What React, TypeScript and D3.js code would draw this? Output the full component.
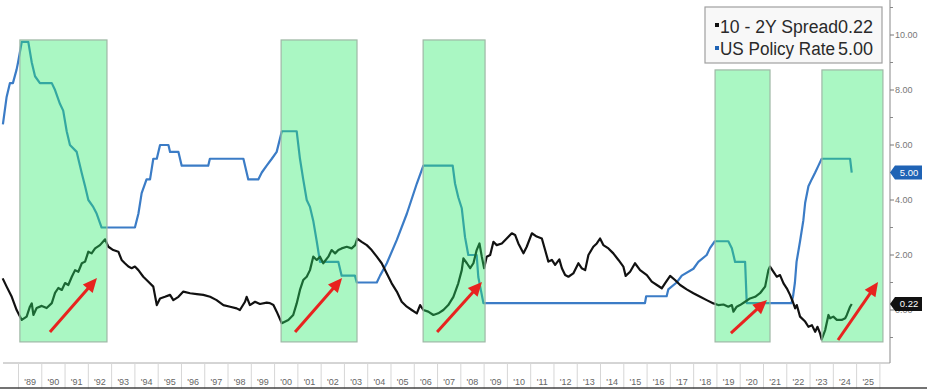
import React from "react";
import * as d3 from "d3";

// ---- Data (decimal year, value) ----
const spreadYears = [
  1988.32, 1988.49, 1988.71, 1988.92, 1989.14, 1989.35, 1989.49, 1989.57, 1989.64, 1989.78,
  1990.0, 1990.21, 1990.43, 1990.57, 1990.71, 1990.86, 1991.0, 1991.14, 1991.29, 1991.43,
  1991.57, 1991.72, 1991.86, 1992.0, 1992.14, 1992.29, 1992.5, 1992.72, 1992.86, 1993.07,
  1993.29, 1993.43, 1993.57, 1993.72, 1993.86, 1994.0, 1994.15, 1994.36, 1994.58, 1994.79,
  1994.94, 1995.08, 1995.29, 1995.51, 1995.65, 1995.87, 1996.08, 1996.37, 1996.66, 1996.94,
  1997.23, 1997.51, 1997.8, 1998.09, 1998.37, 1998.51, 1998.73, 1998.8, 1998.94, 1999.16,
  1999.37, 1999.66, 1999.8, 1999.95, 2000.09, 2000.31, 2000.59, 2000.8, 2000.95, 2001.09,
  2001.23, 2001.38, 2001.52, 2001.66, 2001.81, 2001.95, 2002.09, 2002.31, 2002.45, 2002.6,
  2002.74, 2002.88, 2003.1, 2003.31, 2003.46, 2003.55, 2003.74, 2003.96, 2004.17, 2004.39,
  2004.6, 2004.82, 2005.03, 2005.25, 2005.46, 2005.68, 2005.89, 2006.11, 2006.25, 2006.39,
  2006.6, 2006.82, 2007.03, 2007.25, 2007.46, 2007.68, 2007.89, 2008.04, 2008.11, 2008.26,
  2008.4, 2008.54, 2008.68, 2008.8, 2008.9, 2009.0, 2009.11, 2009.26, 2009.4, 2009.54,
  2009.76, 2009.97, 2010.19, 2010.33, 2010.47, 2010.69, 2010.83, 2011.05, 2011.26, 2011.48,
  2011.62, 2011.76, 2011.91, 2012.05, 2012.23, 2012.34, 2012.48, 2012.62, 2012.83, 2013.05,
  2013.19, 2013.34, 2013.48, 2013.69, 2013.84, 2013.98, 2014.12, 2014.34, 2014.55, 2014.77,
  2014.98, 2015.08, 2015.27, 2015.48, 2015.7, 2015.99, 2016.2, 2016.42, 2016.63, 2016.77,
  2016.99, 2017.2, 2017.42, 2017.7, 2017.99, 2018.28, 2018.56, 2018.85, 2019.06, 2019.28,
  2019.49, 2019.64, 2019.71, 2019.85, 2019.99, 2020.21, 2020.42, 2020.64, 2020.85, 2021.07,
  2021.21, 2021.28, 2021.43, 2021.57, 2021.71, 2021.86, 2022.0, 2022.14, 2022.26, 2022.36,
  2022.43, 2022.57, 2022.79, 2022.93, 2023.08, 2023.22, 2023.32, 2023.43, 2023.5, 2023.65,
  2023.79, 2023.86, 2024.0, 2024.15, 2024.36, 2024.51, 2024.58, 2024.72, 2024.79,
];
const spreadValues = [
  1.15, 0.85, 0.48, 0.0, -0.36, -0.24, 0.12, 0.24, -0.18, 0.07,
  0.15, 0.07, 0.25, 0.62, 0.8, 0.73, 0.98, 0.91, 1.21, 1.45,
  1.39, 1.7, 1.76, 2.12, 2.06, 2.24, 2.36, 2.57, 2.3, 2.18,
  2.12, 1.82, 1.7, 1.58, 1.52, 1.58, 1.45, 1.21, 1.03, 0.85,
  0.18, 0.42, 0.48, 0.55, 0.36, 0.48, 0.67, 0.61, 0.58, 0.55,
  0.48, 0.36, 0.18, 0.12, 0.06, 0.0, 0.3, 0.48, 0.18, 0.3,
  0.22, 0.27, 0.25, 0.18, -0.06, -0.48, -0.36, -0.18, 0.24, 0.73,
  1.09, 1.21, 1.45, 1.94, 1.82, 1.94, 1.7, 1.94, 2.18, 2.06,
  2.18, 2.24, 2.3, 2.24, 2.36, 2.6, 2.48, 2.36, 2.18, 1.94,
  1.7, 1.33, 0.97, 0.67, 0.3, 0.12, 0.0, -0.12, 0.18, 0.0,
  -0.06, -0.18, -0.12, 0.0, 0.18, 0.48, 0.97, 1.45, 1.88, 1.7,
  1.52, 1.7, 2.18, 2.42, 1.94, 1.52, 1.94, 2.0, 2.48, 2.36,
  2.42, 2.6, 2.79, 2.73, 2.42, 2.06, 2.3, 2.79, 2.67, 2.6,
  2.18, 1.76, 1.82, 1.64, 1.84, 1.52, 1.27, 1.21, 1.33, 1.7,
  1.52, 1.45, 2.0, 2.3, 2.42, 2.6, 2.36, 2.24, 2.06, 1.82,
  1.58, 1.24, 1.39, 1.7, 1.45, 1.27, 1.03, 0.91, 0.79, 0.97,
  1.24, 1.09, 0.91, 0.75, 0.61, 0.48, 0.36, 0.24, 0.18, 0.2,
  0.12, 0.18, -0.06, 0.12, 0.18, 0.3, 0.42, 0.48, 0.61, 0.85,
  1.45, 1.58, 1.39, 1.21, 1.27, 0.97, 0.79, 0.55, 0.3, 0.06,
  0.18, -0.24, -0.42, -0.61, -0.55, -0.79, -0.61, -0.85, -1.07, -0.73,
  -0.18, -0.3, -0.24, -0.36, -0.36, -0.3, -0.18, 0.12, 0.22,
];

const rateYears = [
  1988.33, 1988.49, 1988.63, 1988.76, 1988.92, 1988.98, 1989.14, 1989.42, 1989.57, 1989.71,
  1989.92, 1990.43, 1990.57, 1990.78, 1990.92, 1991.07, 1991.21, 1991.5, 1991.71, 1991.86,
  1992.0, 1992.21, 1992.36, 1992.57, 1994.0, 1994.15, 1994.29, 1994.5, 1994.65, 1994.79,
  1994.94, 1995.08, 1995.44, 1995.51, 1995.87, 1996.01, 1997.15, 1997.22, 1998.66, 1998.87,
  1999.3, 1999.45, 1999.66, 1999.88, 2000.09, 2000.31, 2000.95, 2001.09, 2001.23, 2001.38,
  2001.52, 2001.66, 2001.81, 2001.95, 2002.74, 2002.88, 2003.45, 2003.53, 2004.39, 2004.53,
  2004.82, 2005.25, 2005.68, 2006.11, 2006.39, 2007.65, 2007.75, 2007.89, 2008.04, 2008.18,
  2008.32, 2008.68, 2008.75, 2008.97, 2015.91, 2015.96, 2016.84, 2016.91, 2017.27, 2017.49,
  2017.99, 2018.2, 2018.56, 2018.7, 2018.91, 2019.49, 2019.64, 2019.78, 2020.21, 2020.28,
  2022.2, 2022.27, 2022.35, 2022.42, 2022.57, 2022.71, 2022.79, 2022.93, 2023.07, 2023.22,
  2023.36, 2023.5, 2024.72, 2024.79,
];
const rateValues = [
  6.75, 7.75, 8.25, 8.25, 8.75, 9.0, 9.75, 9.75, 9.0, 8.5,
  8.25, 8.25, 8.0, 7.5, 7.25, 6.5, 6.0, 5.75, 5.0, 4.5,
  4.0, 3.75, 3.5, 3.0, 3.0, 3.5, 4.25, 4.75, 4.75, 5.5,
  5.5, 6.0, 6.0, 5.75, 5.75, 5.25, 5.25, 5.5, 5.5, 4.75,
  4.75, 5.0, 5.25, 5.5, 5.75, 6.5, 6.5, 5.5, 4.75, 4.0,
  3.75, 3.25, 2.5, 1.75, 1.75, 1.25, 1.25, 1.0, 1.0, 1.25,
  1.7, 2.55, 3.5, 4.6, 5.25, 5.25, 4.6, 4.1, 3.7, 2.65,
  2.0, 2.0, 1.2, 0.25, 0.25, 0.5, 0.5, 0.75, 1.0, 1.25,
  1.5, 1.75, 2.0, 2.25, 2.5, 2.5, 2.25, 1.75, 1.75, 0.25,
  0.25, 0.5, 1.0, 1.75, 2.5, 3.25, 3.9, 4.5, 4.75, 5.0,
  5.25, 5.5, 5.5, 5.0,
];

const axisTicks = [0, 2, 4, 6, 8, 10];
const minorTicks = [-1, 1, 3, 5, 7, 9, 11];
const yearTicks = d3.range(1989, 2026);
const seriesNames = ["10 - 2Y Spread", "US Policy Rate"];
const lastValues = ["0.22", "5.00"];

// highlighted periods (start year, end year, top value)
const boxStarts = [1989.06, 2000.28, 2006.38, 2018.92, 2023.51];
const boxEnds = [1992.8, 2003.54, 2009.04, 2021.28, 2026.13];
const boxTops = [9.82, 9.82, 9.82, 8.73, 8.73];
const boxBottom = -1.16;

// arrows: tail (year, value) -> head (year, value)
const arrowTailYears = [1990.35, 2000.88, 2006.98, 2019.6, 2024.2];
const arrowTailValues = [-0.8, -0.8, -0.8, -0.84, -1.09];
const arrowHeadYears = [1992.37, 2002.9, 2008.91, 2021.15, 2025.92];
const arrowHeadValues = [1.16, 1.16, 1.02, 0.36, 1.02];

const W = 927;
const H = 389;
const plotLeft = 3;
const axisX = 890;
const plotBottom = 363;

export default function App() {
  const x = d3.scaleLinear().domain([1989, 2026]).range([18.5, 879.9]);
  const y = d3.scaleLinear().domain([-1.927, 11.273]).range([363, 0]);

  const line = d3
    .line<[number, number]>()
    .x((d) => x(d[0]))
    .y((d) => y(d[1]));

  const spread = spreadYears.map((t, i) => [t, spreadValues[i]] as [number, number]);
  const rate = rateYears.map((t, i) => [t, rateValues[i]] as [number, number]);

  const fmt = d3.format(".2f");
  const font = "'Liberation Sans', Arial, sans-serif";

  const arrows = arrowTailYears.map((t, i) => {
    const x1 = x(t);
    const y1 = y(arrowTailValues[i]);
    const x2 = x(arrowHeadYears[i]);
    const y2 = y(arrowHeadValues[i]);
    const ang = Math.atan2(y2 - y1, x2 - x1);
    const hl = 14;
    const hw = 6.5;
    const bx = x2 - hl * Math.cos(ang);
    const by = y2 - hl * Math.sin(ang);
    const px = -Math.sin(ang);
    const py = Math.cos(ang);
    const head = `M${x2},${y2}L${bx + hw * px},${by + hw * py}L${bx - hw * px},${by - hw * py}Z`;
    return { x1, y1, bx: x2 - (hl - 2) * Math.cos(ang), by: y2 - (hl - 2) * Math.sin(ang), head };
  });

  const badge = (val: number, label: string, fill: string) => {
    const cy = y(val);
    return (
      <g>
        <path
          d={`M${axisX},${cy}L${axisX + 5},${cy - 7}H${axisX + 32}V${cy + 7}H${axisX + 5}Z`}
          fill={fill}
        />
        <text x={axisX + 19} y={cy + 3.5} fontSize={9.5} fill="#fff" textAnchor="middle" fontFamily={font}>
          {label}
        </text>
      </g>
    );
  };

  return (
    <svg
      width={W}
      height={H}
      style={{ position: "absolute", left: 0, top: 0, background: "#fff" }}
    >
      <rect x={0} y={0} width={W} height={H} fill="#fff" />
      {/* series */}
      <path d={line(rate) || ""} fill="none" stroke="#3b7cc6" strokeWidth={2.2} strokeLinejoin="round" />
      <path d={line(spread) || ""} fill="none" stroke="#111" strokeWidth={2.2} strokeLinejoin="round" />

      {/* highlight boxes */}
      {boxStarts.map((s, i) => (
        <rect
          key={i}
          x={x(s)}
          y={y(boxTops[i])}
          width={x(boxEnds[i]) - x(s)}
          height={y(boxBottom) - y(boxTops[i])}
          fill="rgb(42,235,105)"
          fillOpacity={0.4}
          stroke="#9fb8a6"
          strokeWidth={1.2}
        />
      ))}

      {/* arrows */}
      {arrows.map((a, i) => (
        <g key={i}>
          <line x1={a.x1} y1={a.y1} x2={a.bx} y2={a.by} stroke="#e8231f" strokeWidth={3} />
          <path d={a.head} fill="#e8231f" />
        </g>
      ))}

      {/* x axis */}
      <line x1={plotLeft} x2={axisX} y1={plotBottom} y2={plotBottom} stroke="#aaa" strokeWidth={1} />
      {yearTicks.concat([2026]).map((yr) => (
        <line key={yr} x1={x(yr)} x2={x(yr)} y1={plotBottom} y2={H} stroke="#d6d6d6" strokeWidth={1} />
      ))}
      {yearTicks.map((yr) => (
        <text
          key={yr}
          x={x(yr + 0.5)}
          y={385}
          fontSize={9}
          fill="#666"
          textAnchor="middle"
          fontFamily={font}
        >
          {"'" + String(yr).slice(2)}
        </text>
      ))}
      <line x1={0} x2={W} y1={388} y2={388} stroke="#444" strokeWidth={1.5} />

      {/* right axis */}
      <line x1={axisX} x2={axisX} y1={0} y2={plotBottom} stroke="#888" strokeWidth={1} />
      {minorTicks.map((v) => (
        <line key={v} x1={axisX} x2={axisX + 3} y1={y(v)} y2={y(v)} stroke="#888" />
      ))}
      {axisTicks.map((v) => (
        <g key={v}>
          <line x1={axisX} x2={axisX + 4} y1={y(v)} y2={y(v)} stroke="#777" />
          <text x={axisX + 5} y={y(v) + 3.2} fontSize={9} fill="#777" fontFamily={font}>
            {fmt(v)}
          </text>
        </g>
      ))}
      {badge(rateValues[rateValues.length - 1], fmt(rateValues[rateValues.length - 1]), "#1f63b5")}
      {badge(spreadValues[spreadValues.length - 1], fmt(spreadValues[spreadValues.length - 1]), "#111")}

      {/* legend */}
      <rect x={705} y={7} width={177} height={56} fill="#f8f8f8" stroke="#a0a0a0" strokeWidth={1.2} />
      <rect x={715} y={23} width={4} height={4} fill="#111" />
      <rect x={715} y={46} width={4} height={4} fill="#1f63b5" />
      <text x={720} y={33} fontSize={18} fill="#2a2a2a" fontFamily={font} textLength={118} lengthAdjust="spacingAndGlyphs">
        {seriesNames[0]}
      </text>
      <text x={873} y={33} fontSize={18} fill="#2a2a2a" fontFamily={font} textAnchor="end">
        {lastValues[0]}
      </text>
      <text x={720} y={55} fontSize={18} fill="#2a2a2a" fontFamily={font} textLength={115} lengthAdjust="spacingAndGlyphs">
        {seriesNames[1]}
      </text>
      <text x={873} y={55} fontSize={18} fill="#2a2a2a" fontFamily={font} textAnchor="end">
        {lastValues[1]}
      </text>
    </svg>
  );
}
